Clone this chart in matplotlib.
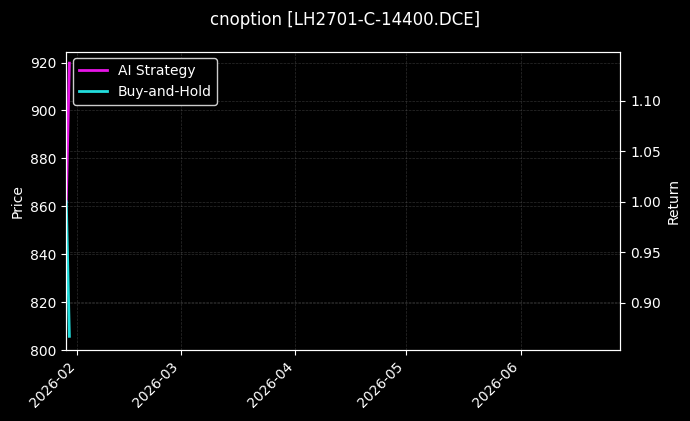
import matplotlib
matplotlib.use("Agg")
import matplotlib.pyplot as plt
import matplotlib.dates as mdates
import pandas as pd

plt.style.use("dark_background")

title = "cnoption [LH2701-C-14400.DCE]"
dates = pd.to_datetime(["2026-01-29 00:00", "2026-01-29 20:00"])
ai_strategy = [1.0, 1.137]
buy_and_hold = [1.0, 0.867]
x_range = pd.to_datetime(["2026-01-29", "2026-06-28"])
price_range = [800, 924.6]
return_range = [0.8535, 1.1485]

fig = plt.figure(figsize=(6.9, 4.21), dpi=100)
ax1 = fig.add_axes([66.3 / 690, 1 - 350 / 421, (620.3 - 66.3) / 690, (350 - 51.5) / 421])
ax1.set_ylim(*price_range)
ax1.set_xlim(x_range[0], x_range[1])
ax1.set_ylabel("Price", fontsize=10)
ax1.grid(True, linestyle="--", linewidth=0.5, color="gray", alpha=0.35)

ax2 = ax1.twinx()
ax2.plot(dates, ai_strategy, color="#e815e8", linewidth=2, label="AI Strategy")
ax2.plot(dates, buy_and_hold, color="#22dede", linewidth=2, label="Buy-and-Hold")
ax2.set_ylabel("Return", fontsize=10)
ax2.set_ylim(*return_range)
ax2.grid(True, linestyle="--", linewidth=0.5, color="gray", alpha=0.35)
ax2.set_xlim(x_range[0], x_range[1])

ax1.xaxis.set_major_locator(mdates.MonthLocator())
ax1.xaxis.set_major_formatter(mdates.DateFormatter("%Y-%m"))
for lbl in ax1.get_xticklabels():
    lbl.set_rotation(45)
    lbl.set_ha("right")

leg = ax2.legend(loc="upper left", fontsize=10, facecolor="black", edgecolor="#cccccc", framealpha=1.0)

fig.suptitle(title, fontsize=12, y=0.975)

fig.savefig("out.png", dpi=100, facecolor="black")
